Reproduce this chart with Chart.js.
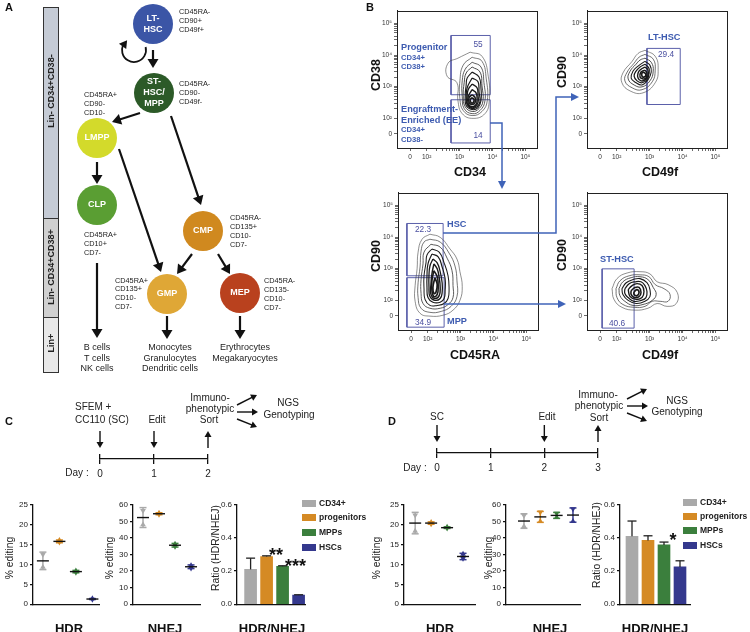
<!DOCTYPE html>
<html>
<head>
<meta charset="utf-8">
<title>HSPC editing figure</title>
<script src="https://cdn.jsdelivr.net/npm/chart.js@4.4.1/dist/chart.umd.min.js"></script>
<style>
  body { margin: 0; background: #fff; }
  #page { position: relative; width: 750px; height: 632px; overflow: hidden;
          font-family: "Liberation Sans", Arial, Helvetica, sans-serif; color: #111; }
  #page canvas { position: absolute; }
  .t { position: absolute; white-space: pre; line-height: 1; }
  .lt { font-size: 11px; font-weight: bold; }
  .node { font-size: 9px; font-weight: bold; color: #fff; }
  .mk { font-size: 7.3px; color: #222; }
  .fate { font-size: 9px; color: #222; }
  .lin { font-size: 9px; font-weight: bold; color: #222; }
  .bh { font-size: 9.2px; font-weight: bold; color: #3d5bb0; }
  .bs { font-size: 7.6px; font-weight: bold; color: #3d5bb0; }
  .bn { font-size: 8.3px; color: #4a4fa0; }
  .ax { font-size: 12.5px; font-weight: bold; }
  .tl { font-size: 10px; color: #222; }
  .ti { font-size: 13px; font-weight: bold; }
  .yt { font-size: 10.3px; color: #222; }
  .lg { font-size: 8.5px; font-weight: bold; color: #222; }
  .st { font-size: 18px; font-weight: bold; }
  .sw { position: absolute; width: 14px; height: 7px; }
  .bar { position: absolute; box-sizing: border-box; border: 1.5px solid #333; width: 16px; }
</style>
</head>
<body>
<div id="page"></div>
<script>
// ---------- A: hierarchy ----------
const nodeLabels = [['LT-', 'HSC'], ['ST-', 'HSC/', 'MPP'], ['LMPP'], ['CLP'], ['CMP'], ['GMP'], ['MEP']];
const nodeX = [153, 154, 97, 97, 203, 167, 240];
const nodeY = [24, 93, 138, 205, 231, 294, 293];
const nodeColors = ['#3b55a6', '#2c5a28', '#d3da2b', '#5a9e33', '#d0891f', '#dfa736', '#b9411e'];
const treeArrows = [
  [153, 50, 153, 68], [140, 113, 112, 122], [171, 116, 201, 205], [97, 162, 97, 184],
  [119, 149, 161, 272], [192, 254, 177, 274], [218, 254, 230, 274],
  [97, 263, 97, 338], [167, 316, 167, 339], [240, 316, 240, 339]
];
const selfRenewal = [134, 50, 12];
const nodeMarkers = [
  [179, 12, ['CD45RA-', 'CD90+', 'CD49f+']],
  [179, 84, ['CD45RA-', 'CD90-', 'CD49f-']],
  [84, 95, ['CD45RA+', 'CD90-', 'CD10-']],
  [84, 235, ['CD45RA+', 'CD10+', 'CD7-']],
  [230, 218, ['CD45RA-', 'CD135+', 'CD10-', 'CD7-']],
  [115, 280.5, ['CD45RA+', 'CD135+', 'CD10-', 'CD7-']],
  [264, 281, ['CD45RA-', 'CD135-', 'CD10-', 'CD7-']]
];
const fates = [
  [97, 347, ['B cells', 'T cells', 'NK cells']],
  [170, 347, ['Monocytes', 'Granulocytes', 'Dendritic cells']],
  [245, 347, ['Erythrocytes', 'Megakaryocytes']]
];

// ---------- B: flow plots (axis units: 0 -> 1.5, 10^n -> n), contours outer -> inner ----------
const flowTickPos = [1.5, 2, 3, 4, 5];
const flowTickText = ['0', '10²', '10³', '10⁴', '10⁵'];
const cd34Rings = [
  [[3.32,4.09],[3.68,3.96],[3.87,3.33],[3.90,2.55],[3.77,2.14],[3.41,1.99],[3.08,2.14],[2.95,2.55],[2.92,3.12],[2.62,3.33],[2.65,3.74],[2.95,3.90]],
  [[3.38,3.93],[3.68,3.80],[3.81,3.24],[3.84,2.55],[3.68,2.21],[3.38,2.08],[3.11,2.24],[3.01,2.61],[3.01,3.18],[3.11,3.68]],
  [[3.38,3.77],[3.65,3.62],[3.74,3.12],[3.77,2.55],[3.62,2.24],[3.38,2.14],[3.14,2.30],[3.08,2.68],[3.08,3.18],[3.17,3.55]],
  [[3.38,3.62],[3.62,3.46],[3.68,3.02],[3.71,2.55],[3.59,2.30],[3.38,2.21],[3.17,2.36],[3.11,2.71],[3.14,3.12],[3.20,3.43]],
  [[3.38,3.46],[3.59,3.30],[3.65,2.93],[3.65,2.55],[3.56,2.33],[3.38,2.27],[3.20,2.40],[3.17,2.71],[3.20,3.05],[3.23,3.27]],
  [[3.38,3.27],[3.56,3.15],[3.59,2.83],[3.62,2.52],[3.53,2.36],[3.38,2.30],[3.23,2.43],[3.20,2.68],[3.23,2.96]],
  [[3.38,3.08],[3.53,2.96],[3.56,2.71],[3.56,2.49],[3.47,2.36],[3.35,2.33],[3.23,2.46],[3.23,2.71],[3.26,2.90]],
  [[3.38,2.90],[3.50,2.80],[3.53,2.58],[3.50,2.43],[3.38,2.36],[3.26,2.46],[3.26,2.68]],
  [[3.38,2.74],[3.47,2.65],[3.47,2.49],[3.38,2.43],[3.29,2.49],[3.29,2.65]],
  [[3.38,2.65],[3.44,2.58],[3.41,2.49],[3.35,2.49],[3.32,2.58]]
];
const cd34Gates = [[2.74, 2.74, 3.93, 4.62], [2.74, 1.21, 3.93, 2.58]];
const ltRings = [
  [[2.86,4.15],[3.17,3.96],[3.26,3.55],[3.17,3.12],[2.80,2.80],[2.41,2.86],[2.16,3.12],[2.19,3.43],[2.47,3.80],[2.65,4.05]],
  [[2.86,4.02],[3.11,3.87],[3.17,3.52],[3.08,3.15],[2.77,2.90],[2.47,2.96],[2.25,3.18],[2.32,3.46],[2.53,3.74],[2.68,3.93]],
  [[2.86,3.90],[3.05,3.77],[3.11,3.49],[3.01,3.18],[2.77,2.99],[2.53,3.05],[2.35,3.24],[2.41,3.49],[2.59,3.71],[2.71,3.84]],
  [[2.86,3.80],[3.01,3.68],[3.05,3.46],[2.95,3.21],[2.77,3.05],[2.59,3.12],[2.44,3.27],[2.50,3.49],[2.65,3.65]],
  [[2.86,3.71],[2.98,3.58],[2.98,3.40],[2.92,3.21],[2.77,3.12],[2.62,3.18],[2.53,3.33],[2.59,3.49],[2.71,3.62]],
  [[2.86,3.62],[2.95,3.52],[2.95,3.33],[2.86,3.21],[2.74,3.18],[2.65,3.27],[2.65,3.43],[2.74,3.55]],
  [[2.86,3.52],[2.92,3.43],[2.89,3.27],[2.80,3.24],[2.71,3.30],[2.74,3.46]],
  [[2.83,3.46],[2.89,3.37],[2.83,3.30],[2.77,3.33],[2.77,3.43]]
];
const ltGates = [[2.92, 2.43, 3.93, 4.21]];
const cd45Rings = [
  [[2.07,4.09],[2.38,3.99],[2.68,3.62],[2.89,3.30],[2.98,2.90],[3.05,2.43],[2.98,1.99],[2.77,1.68],[2.47,1.52],[2.07,1.49],[1.77,1.58],[1.62,1.96],[1.62,2.46],[1.68,2.99],[1.71,3.52],[1.83,3.93]],
  [[2.07,3.93],[2.38,3.84],[2.65,3.49],[2.83,3.08],[2.89,2.61],[2.89,2.11],[2.71,1.80],[2.41,1.64],[2.07,1.61],[1.80,1.74],[1.71,2.08],[1.71,2.55],[1.77,3.05],[1.80,3.55],[1.89,3.84]],
  [[2.10,3.77],[2.38,3.68],[2.59,3.33],[2.74,2.93],[2.77,2.46],[2.77,2.08],[2.62,1.86],[2.38,1.74],[2.07,1.74],[1.86,1.89],[1.80,2.21],[1.80,2.65],[1.86,3.15],[1.89,3.52]],
  [[2.13,3.62],[2.35,3.52],[2.50,3.18],[2.62,2.77],[2.65,2.36],[2.62,2.05],[2.50,1.89],[2.29,1.83],[2.07,1.83],[1.92,2.02],[1.89,2.36],[1.89,2.77],[1.95,3.18],[1.98,3.43]],
  [[2.13,3.46],[2.32,3.37],[2.44,3.05],[2.53,2.68],[2.53,2.30],[2.50,2.05],[2.38,1.93],[2.16,1.93],[2.01,2.08],[1.98,2.40],[1.98,2.77],[2.01,3.15]],
  [[2.16,3.30],[2.29,3.18],[2.38,2.90],[2.44,2.55],[2.44,2.24],[2.38,2.05],[2.22,1.99],[2.07,2.11],[2.04,2.43],[2.04,2.77],[2.07,3.08]],
  [[2.19,3.15],[2.29,2.99],[2.35,2.71],[2.38,2.40],[2.35,2.14],[2.22,2.05],[2.10,2.18],[2.10,2.49],[2.13,2.83]],
  [[2.19,2.93],[2.29,2.74],[2.32,2.43],[2.29,2.18],[2.19,2.11],[2.13,2.30],[2.13,2.61]],
  [[2.22,2.71],[2.29,2.49],[2.25,2.24],[2.19,2.21],[2.16,2.40]]
];
const cd45Gates = [[1.37, 2.77, 2.47, 4.43], [1.37, 1.14, 2.5, 2.71]];
const stRings = [
  [[1.86,2.36],[2.01,2.68],[2.32,2.86],[2.71,2.90],[3.01,2.83],[3.23,2.58],[3.56,2.49],[3.84,2.24],[3.81,1.89],[3.53,1.80],[3.23,1.89],[2.95,1.74],[2.56,1.68],[2.16,1.77],[1.92,2.02]],
  [[1.98,2.36],[2.10,2.61],[2.38,2.77],[2.71,2.80],[2.98,2.74],[3.17,2.49],[3.44,2.36],[3.62,2.18],[3.56,1.96],[3.32,1.96],[3.08,1.96],[2.86,1.80],[2.53,1.77],[2.19,1.86],[2.01,2.08]],
  [[2.07,2.36],[2.19,2.58],[2.44,2.71],[2.71,2.74],[2.95,2.65],[3.11,2.40],[3.20,2.18],[3.08,1.99],[2.80,1.86],[2.50,1.83],[2.25,1.96],[2.10,2.14]],
  [[2.16,2.36],[2.29,2.55],[2.50,2.65],[2.71,2.68],[2.92,2.55],[3.01,2.33],[3.01,2.11],[2.86,1.96],[2.59,1.89],[2.35,1.99],[2.19,2.18]],
  [[2.25,2.36],[2.38,2.52],[2.56,2.58],[2.74,2.58],[2.86,2.46],[2.92,2.27],[2.89,2.08],[2.74,1.99],[2.53,1.96],[2.35,2.08],[2.25,2.21]],
  [[2.35,2.33],[2.47,2.46],[2.62,2.52],[2.77,2.46],[2.83,2.27],[2.77,2.08],[2.59,2.02],[2.41,2.11]],
  [[2.44,2.30],[2.56,2.40],[2.68,2.40],[2.74,2.24],[2.68,2.11],[2.53,2.08],[2.44,2.18]],
  [[2.53,2.27],[2.62,2.33],[2.68,2.24],[2.62,2.14],[2.53,2.18]]
];
const stGates = [[1.56, 1.11, 2.53, 2.99]];

// ---------- C / D: editing per population ----------
const cellTypes = ['CD34+', 'progenitors', 'MPPs', 'HSCs'];
const cellColors = ['#a9a9a9', '#d58a24', '#3b7f3d', '#34388d'];

const cHdrDonorA = [12.5, 15.6, 8.0, 1.2];
const cHdrDonorB = [9.3, 16.1, 8.4, 1.4];
const cHdrMean = [10.9, 15.8, 8.2, 1.3];
const cHdrSd = [2.2, 0.35, 0.3, 0.1];
const cNhejDonorA = [56.5, 54.2, 34.8, 21.8];
const cNhejDonorB = [48.0, 55.0, 36.3, 23.4];
const cNhejMean = [52.3, 54.6, 35.6, 22.6];
const cNhejSd = [6.0, 0.6, 1.1, 1.1];
const cRatio = [0.21, 0.288, 0.229, 0.055];
const cRatioSd = [0.068, 0.004, 0.003, 0.002];

const dHdrDonorA = [22.4, 20.2, 19.1, 11.5];
const dHdrDonorB = [18.4, 20.6, 19.4, 12.6];
const dHdrMean = [20.4, 20.4, 19.25, 12.0];
const dHdrSd = [2.7, 0.3, 0.2, 0.8];
const dNhejDonorA = [53.5, 55.5, 54.8, 57.5];
const dNhejDonorB = [47.0, 50.0, 52.5, 50.0];
const dNhejMean = [50.2, 52.7, 53.6, 53.8];
const dNhejSd = [4.4, 3.3, 1.8, 4.3];
const dRatio = [0.41, 0.385, 0.358, 0.225];
const dRatioSd = [0.092, 0.028, 0.017, 0.037];

const cDays = [0, 1, 2];
const dDays = [0, 1, 2, 3];
const cEditDays = [0, 1];
const dEditDays = [0, 2];

// ---------- helpers ----------
var page = document.getElementById('page');
Chart.defaults.font.family = "'Liberation Sans', Arial, sans-serif";
Chart.defaults.color = '#222';
Chart.defaults.animation = false;
Chart.defaults.responsive = false;
Chart.defaults.devicePixelRatio = 1;
Chart.defaults.events = [];
Chart.defaults.plugins.legend.display = false;
Chart.defaults.plugins.tooltip.enabled = false;

function canvasAt(left, top, w, h) {
  var c = document.createElement('canvas');
  c.width = w; c.height = h;
  c.style.left = left + 'px'; c.style.top = top + 'px';
  page.appendChild(c);
  return c;
}

function put(x, y, txt, cls, anchor) {
  var d = document.createElement('div');
  d.className = 't ' + cls;
  d.textContent = txt;
  d.style.left = x + 'px';
  d.style.top = y + 'px';
  var tr = 'translate(-50%,-50%)';
  if (anchor === 'l') tr = 'translate(0,-50%)';
  if (anchor === 'v') tr = 'translate(-50%,-50%) rotate(-90deg)';
  d.style.transform = tr;
  page.appendChild(d);
}

function head(ctx, bx, by, tx, ty, hw) {
  var a = Math.atan2(ty - by, tx - bx);
  ctx.beginPath();
  ctx.moveTo(tx, ty);
  ctx.lineTo(bx - hw * Math.sin(a), by + hw * Math.cos(a));
  ctx.lineTo(bx + hw * Math.sin(a), by - hw * Math.cos(a));
  ctx.closePath();
  ctx.fill();
}

function arrow(ctx, x1, y1, x2, y2, hl, hw) {
  var a = Math.atan2(y2 - y1, x2 - x1);
  var bx = x2 - hl * Math.cos(a), by = y2 - hl * Math.sin(a);
  ctx.beginPath();
  ctx.moveTo(x1, y1);
  ctx.lineTo(bx + Math.cos(a), by + Math.sin(a));
  ctx.stroke();
  head(ctx, bx, by, x2, y2, hw);
}

// ---------- plugins ----------
var treePlugin = {
  id: 'tree',
  afterDatasetsDraw: function(chart, args, o) {
    if (!o.arrows) return;
    var ctx = chart.ctx, xs = chart.scales.x, ys = chart.scales.y;
    ctx.save();
    ctx.strokeStyle = '#111'; ctx.fillStyle = '#111'; ctx.lineWidth = 2.2;
    o.arrows.forEach(function(a) {
      arrow(ctx, xs.getPixelForValue(a[0]), ys.getPixelForValue(a[1]),
        xs.getPixelForValue(a[2]), ys.getPixelForValue(a[3]), 9, 5.5);
    });
    var s = o.selfRenew;
    var cx = xs.getPixelForValue(s[0]), cy = ys.getPixelForValue(s[1]), r = s[2];
    ctx.lineWidth = 1.8;
    ctx.beginPath(); ctx.arc(cx, cy, r, -0.25, 3.5); ctx.stroke();
    head(ctx, cx + r * Math.cos(3.45), cy + r * Math.sin(3.45),
      cx + r * Math.cos(4.1), cy + r * Math.sin(4.1), 4.5);
    ctx.restore();
  }
};

var framePlugin = {
  id: 'frame',
  afterDraw: function(chart, args, o) {
    if (!o.show) return;
    var a = chart.chartArea, ctx = chart.ctx;
    ctx.save();
    ctx.strokeStyle = '#222'; ctx.lineWidth = 1;
    ctx.strokeRect(Math.round(a.left) + 0.5, Math.round(a.top) + 0.5, Math.round(a.right - a.left), Math.round(a.bottom - a.top));
    ctx.restore();
  }
};

var errbarPlugin = {
  id: 'errbars',
  afterDatasetsDraw: function(chart, args, o) {
    if (!o.mean) return;
    var ctx = chart.ctx, xs = chart.scales.x, ys = chart.scales.y;
    ctx.save();
    function seg(x1, y1, x2, y2) { ctx.beginPath(); ctx.moveTo(x1, y1); ctx.lineTo(x2, y2); ctx.stroke(); }
    o.mean.forEach(function(m, i) {
      var px = xs.getPixelForValue(i);
      var top = ys.getPixelForValue(m + o.sd[i]);
      var mid = ys.getPixelForValue(m);
      if (o.bars) {
        ctx.strokeStyle = '#222'; ctx.lineWidth = 1.3;
        seg(px, mid, px, top); seg(px - 4.5, top, px + 4.5, top);
      } else {
        var bot = ys.getPixelForValue(m - o.sd[i]);
        ctx.strokeStyle = o.colors[i]; ctx.lineWidth = 1.5;
        seg(px, top, px, bot); seg(px - 3.5, top, px + 3.5, top); seg(px - 3.5, bot, px + 3.5, bot);
        ctx.strokeStyle = '#111'; ctx.lineWidth = 1.4;
        seg(px - 6, mid, px + 6, mid);
      }
    });
    ctx.restore();
  }
};

var timelinePlugin = {
  id: 'timeline',
  afterDraw: function(chart, args, o) {
    if (!o.down) return;
    var ctx = chart.ctx, xs = chart.scales.x, yl = chart.chartArea.bottom;
    ctx.save();
    ctx.strokeStyle = '#111'; ctx.fillStyle = '#111'; ctx.lineWidth = 1.4;
    o.down.forEach(function(d) { var px = xs.getPixelForValue(d); arrow(ctx, px, yl - 28, px, yl - 11, 6, 3.5); });
    var sx = xs.getPixelForValue(o.sort);
    arrow(ctx, sx, yl - 11, sx, yl - 28, 6, 3.5);
    o.fan.forEach(function(f) { arrow(ctx, sx + f[0], yl + f[1], sx + f[2], yl + f[3], 6, 3.5); });
    ctx.restore();
  }
};

Chart.register(treePlugin, framePlugin, errbarPlugin, timelinePlugin);

// ---------- panel A ----------
[[7, 212, '#c5cbd5'], [218, 101, '#d0d0d0'], [317, 56, '#e8e8e8']].forEach(function(b) {
  var d = document.createElement('div');
  d.className = 'bar';
  d.style.left = '43px'; d.style.top = b[0] + 'px'; d.style.height = b[1] + 'px'; d.style.background = b[2];
  page.appendChild(d);
});

// the big points make Chart.js inset the plot area by 20px, so the hidden scales start at 20
new Chart(canvasAt(0, 0, 370, 400), {
  type: 'scatter',
  data: { datasets: [{
    data: nodeX.map(function(x, i) { return { x: x, y: nodeY[i] }; }),
    pointRadius: 20, pointHoverRadius: 20, pointBackgroundColor: nodeColors, pointBorderWidth: 0,
    clip: false
  }] },
  options: {
    layout: { padding: 20 },
    scales: { x: { display: false, min: 20, max: 350 }, y: { display: false, min: 20, max: 380, reverse: true } },
    plugins: { tree: { arrows: treeArrows, selfRenew: selfRenewal } }
  }
});

// ---------- panel B ----------
function flowAxis(min, max, size, isX) {
  return {
    type: 'linear', min: min, max: max,
    afterBuildTicks: function(s) {
      var t = flowTickPos.map(function(v) { return { value: v }; });
      for (var d = 2; d < 5; d++) for (var k = 2; k < 10; k++) t.push({ value: d + Math.log10(k) });
      t.sort(function(a, b) { return a.value - b.value; });
      s.ticks = t;
    },
    ticks: { autoSkip: false, maxRotation: 0, font: { size: 6.5 }, padding: 2, color: '#333',
      callback: function(v) { var i = flowTickPos.indexOf(v); return i < 0 ? '' : flowTickText[i]; } },
    grid: { drawOnChartArea: false, tickLength: 3, color: '#444', lineWidth: 0.8 },
    border: { color: '#222', width: 1 },
    afterFit: function(s) { if (isX) s.height = size; else s.width = size; }
  };
}

function flowPlot(left, top, rings, gates) {
  var n = rings.length;
  var sets = rings.map(function(r, i) {
    var pts = r.map(function(p) { return { x: p[0], y: p[1] }; });
    pts.push(pts[0]);
    var f = i / (n - 1);
    return { data: pts, showLine: true, borderColor: f < 0.35 ? '#444' : '#1a1a1a',
      borderWidth: 0.6 + 1.1 * f, pointRadius: 0, pointHoverRadius: 0, tension: 0.45 };
  });
  gates.forEach(function(g) {
    sets.push({ data: [{ x: g[0], y: g[1] }, { x: g[2], y: g[1] }, { x: g[2], y: g[3] }, { x: g[0], y: g[3] }, { x: g[0], y: g[1] }],
      showLine: true, borderColor: '#5b60aa', borderWidth: 1, pointRadius: 0, pointHoverRadius: 0, tension: 0 });
  });
  return new Chart(canvasAt(left, top, 162, 157), {
    type: 'scatter',
    data: { datasets: sets },
    options: {
      layout: { padding: { top: 4, right: 4, left: 0, bottom: 0 } },
      scales: { x: flowAxis(1.1, 5.35, 14, true), y: flowAxis(1.05, 5.4, 18, false) },
      plugins: { frame: { show: true } }
    }
  });
}

flowPlot(379, 5, cd34Rings, cd34Gates);
flowPlot(569, 5, ltRings, ltGates);
flowPlot(380, 187, cd45Rings, cd45Gates);
flowPlot(569, 187, stRings, stGates);

// ---------- panels C / D : timelines ----------
function timeline(left, top, w, h, pad, axisH, days, editDays) {
  new Chart(canvasAt(left, top, w, h), {
    type: 'scatter',
    data: { datasets: [{ data: [] }] },
    options: {
      layout: { padding: pad },
      scales: {
        x: { type: 'linear', min: days[0], max: days[days.length - 1],
          afterBuildTicks: function(s) { s.ticks = days.map(function(v) { return { value: v }; }); },
          ticks: { font: { size: 10 }, padding: 4, color: '#222' },
          grid: { color: '#111', lineWidth: 1.3, tickLength: 5, drawOnChartArea: true },
          border: { color: '#111', width: 1.3 },
          afterFit: function(s) { s.height = axisH; } },
        y: { display: false, min: 0, max: 1 }
      },
      plugins: { timeline: { down: editDays, sort: days[days.length - 1],
        fan: [[29, -54, 49, -64], [29, -47, 50, -47], [29, -40, 49, -32]] } }
    }
  });
}
timeline(55, 390, 215, 95, { top: 64, left: 45, right: 62, bottom: 0 }, 26, cDays, cEditDays);
timeline(390, 380, 310, 100, { top: 68, left: 47, right: 102, bottom: 0 }, 27, dDays, dEditDays);

// ---------- panels C / D : editing charts ----------
function xAxis(min, max) {
  return { type: 'linear', min: min, max: max, ticks: { display: false }, grid: { display: false },
    border: { color: '#111', width: 1.3 }, afterFit: function(s) { s.height = 4; } };
}
function yAxis(max, step, dec) {
  return { min: 0, max: max,
    ticks: { stepSize: step, font: { size: 8 }, padding: 2, color: '#222',
      callback: function(v) { return dec ? v.toFixed(dec) : v; } },
    grid: { drawOnChartArea: false, tickLength: 3, color: '#111', lineWidth: 1.2 },
    border: { color: '#111', width: 1.3 },
    afterFit: function(s) { s.width = 22; } };
}
function pts(arr) { return arr.map(function(v, i) { return { x: i, y: v }; }); }

function editChart(axL, axR, xMin, xMax, yMax, yStep, donorA, donorB, mean, sd) {
  new Chart(canvasAt(axL - 22, 498, axR - axL + 26, 113), {
    type: 'scatter',
    data: { datasets: [
      { data: pts(donorA), pointStyle: 'triangle', rotation: 180, pointRadius: 3.3, pointHoverRadius: 3.3, backgroundColor: cellColors, borderWidth: 0 },
      { data: pts(donorB), pointStyle: 'triangle', pointRadius: 3.3, pointHoverRadius: 3.3, backgroundColor: cellColors, borderWidth: 0 }
    ] },
    options: {
      layout: { padding: { top: 4, right: 4, left: 0, bottom: 0 } },
      scales: { x: xAxis(xMin, xMax), y: yAxis(yMax, yStep, 0) },
      plugins: { errbars: { mean: mean, sd: sd, colors: cellColors } }
    }
  });
}

function ratioChart(axL, axR, xMin, xMax, ratio, sd) {
  new Chart(canvasAt(axL - 22, 498, axR - axL + 26, 113), {
    type: 'bar',
    data: { datasets: [{ data: pts(ratio), backgroundColor: cellColors, barThickness: 12 }] },
    options: {
      layout: { padding: { top: 4, right: 4, left: 0, bottom: 0 } },
      scales: { x: Object.assign(xAxis(xMin, xMax), { offset: false }), y: yAxis(0.6, 0.2, 1) },
      plugins: { errbars: { mean: ratio, sd: sd, bars: true } }
    }
  });
}

editChart(33, 99, -0.6, 3.4, 25, 5, cHdrDonorA, cHdrDonorB, cHdrMean, cHdrSd);
editChart(133, 200, -0.625, 3.56, 60, 10, cNhejDonorA, cNhejDonorB, cNhejMean, cNhejSd);
ratioChart(237, 305, -0.85, 3.4, cRatio, cRatioSd);
editChart(404, 475, -0.7, 3.75, 25, 5, dHdrDonorA, dHdrDonorB, dHdrMean, dHdrSd);
editChart(506, 580, -1.1, 3.43, 60, 10, dNhejDonorA, dNhejDonorB, dNhejMean, dNhejSd);
ratioChart(620, 690, -0.75, 3.625, dRatio, dRatioSd);

// ---------- connectors of panel B ----------
page.insertAdjacentHTML('beforeend',
  '<svg width="750" height="632" style="position:absolute;left:0;top:0;pointer-events:none">' +
  '<g stroke="#3f63b8" stroke-width="1.5" fill="none">' +
  '<polyline points="490,123 502,123 502,182"/>' +
  '<polyline points="443,233 556,233 556,97 572,97"/>' +
  '<polyline points="444,304 559,304"/></g>' +
  '<g fill="#3f63b8"><polygon points="498,181 506,181 502,189"/>' +
  '<polygon points="571,93 571,101 579,97"/><polygon points="558,300 558,308 566,304"/></g></svg>');

// ---------- text ----------
nodeLabels.forEach(function(lines, i) {
  lines.forEach(function(s, j) { put(nodeX[i], nodeY[i] - 1 + (j - (lines.length - 1) / 2) * 11, s, 'node', 'c'); });
});
nodeMarkers.forEach(function(m) {
  m[2].forEach(function(s, j) { put(m[0], m[1] + j * 8.9, s, 'mk', 'l'); });
});
fates.forEach(function(f) {
  f[2].forEach(function(s, j) { put(f[0], f[1] + j * 10.7, s, 'fate', 'c'); });
});

[
  [5, 7, 'A', 'lt', 'l'], [366, 7, 'B', 'lt', 'l'], [5, 421, 'C', 'lt', 'l'], [388, 421, 'D', 'lt', 'l'],
  [51, 91, 'Lin- CD34+CD38-', 'lin', 'v'], [51, 267, 'Lin- CD34+CD38+', 'lin', 'v'], [51, 343, 'Lin+', 'lin', 'v'],

  [401, 48, 'Progenitor', 'bh', 'l'], [401, 57.5, 'CD34+', 'bs', 'l'], [401, 67, 'CD38+', 'bs', 'l'],
  [401, 109.5, 'Engraftment-', 'bh', 'l'], [401, 121, 'Enriched (EE)', 'bh', 'l'],
  [401, 129.5, 'CD34+', 'bs', 'l'], [401, 140, 'CD38-', 'bs', 'l'],
  [478, 44, '55', 'bn', 'c'], [478, 135, '14', 'bn', 'c'],
  [648, 38, 'LT-HSC', 'bh', 'l'], [666, 54, '29.4', 'bn', 'c'],
  [423, 229, '22.3', 'bn', 'c'], [447, 225, 'HSC', 'bh', 'l'], [423, 322, '34.9', 'bn', 'c'], [447, 322, 'MPP', 'bh', 'l'],
  [600, 260, 'ST-HSC', 'bh', 'l'], [617, 323, '40.6', 'bn', 'c'],
  [470, 172, 'CD34', 'ax', 'c'], [660, 172, 'CD49f', 'ax', 'c'], [475, 355, 'CD45RA', 'ax', 'c'], [660, 355, 'CD49f', 'ax', 'c'],
  [376, 75, 'CD38', 'ax', 'v'], [562, 72, 'CD90', 'ax', 'v'], [376, 256, 'CD90', 'ax', 'v'], [562, 255, 'CD90', 'ax', 'v'],

  [75, 407, 'SFEM +', 'tl', 'l'], [75, 420, 'CC110 (SC)', 'tl', 'l'], [157, 420, 'Edit', 'tl', 'c'],
  [210, 398, 'Immuno-', 'tl', 'c'], [210, 409, 'phenotypic', 'tl', 'c'], [209, 420, 'Sort', 'tl', 'c'],
  [288, 403, 'NGS', 'tl', 'c'], [289, 415, 'Genotyping', 'tl', 'c'], [77, 473, 'Day :', 'tl', 'c'],
  [69, 628, 'HDR', 'ti', 'c'], [165, 628, 'NHEJ', 'ti', 'c'], [272, 628, 'HDR/NHEJ', 'ti', 'c'],
  [10, 558, '% editing', 'yt', 'v'], [110, 558, '% editing', 'yt', 'v'], [216, 548, 'Ratio (HDR/NHEJ)', 'yt', 'v'],
  [276, 555, '**', 'st', 'c'], [295.5, 566, '***', 'st', 'c'],

  [437, 417, 'SC', 'tl', 'c'], [547, 417, 'Edit', 'tl', 'c'],
  [598, 395, 'Immuno-', 'tl', 'c'], [599, 406, 'phenotypic', 'tl', 'c'], [599, 418, 'Sort', 'tl', 'c'],
  [677, 401, 'NGS', 'tl', 'c'], [677, 412, 'Genotyping', 'tl', 'c'], [415, 468, 'Day :', 'tl', 'c'],
  [440, 628, 'HDR', 'ti', 'c'], [550, 628, 'NHEJ', 'ti', 'c'], [655, 628, 'HDR/NHEJ', 'ti', 'c'],
  [377, 558, '% editing', 'yt', 'v'], [489, 558, '% editing', 'yt', 'v'], [597, 545, 'Ratio (HDR/NHEJ)', 'yt', 'v'],
  [673, 540, '*', 'st', 'c']
].forEach(function(a) { put(a[0], a[1], a[2], a[3], a[4]); });

// legends
[[302, 319, [503, 517, 532, 547]], [683, 700, [502, 516, 530, 545]]].forEach(function(L) {
  cellTypes.forEach(function(name, i) {
    var s = document.createElement('div');
    s.className = 'sw';
    s.style.left = L[0] + 'px'; s.style.top = (L[2][i] - 3.5) + 'px'; s.style.background = cellColors[i];
    page.appendChild(s);
    put(L[1], L[2][i], name, 'lg', 'l');
  });
});
</script>
</body>
</html>
